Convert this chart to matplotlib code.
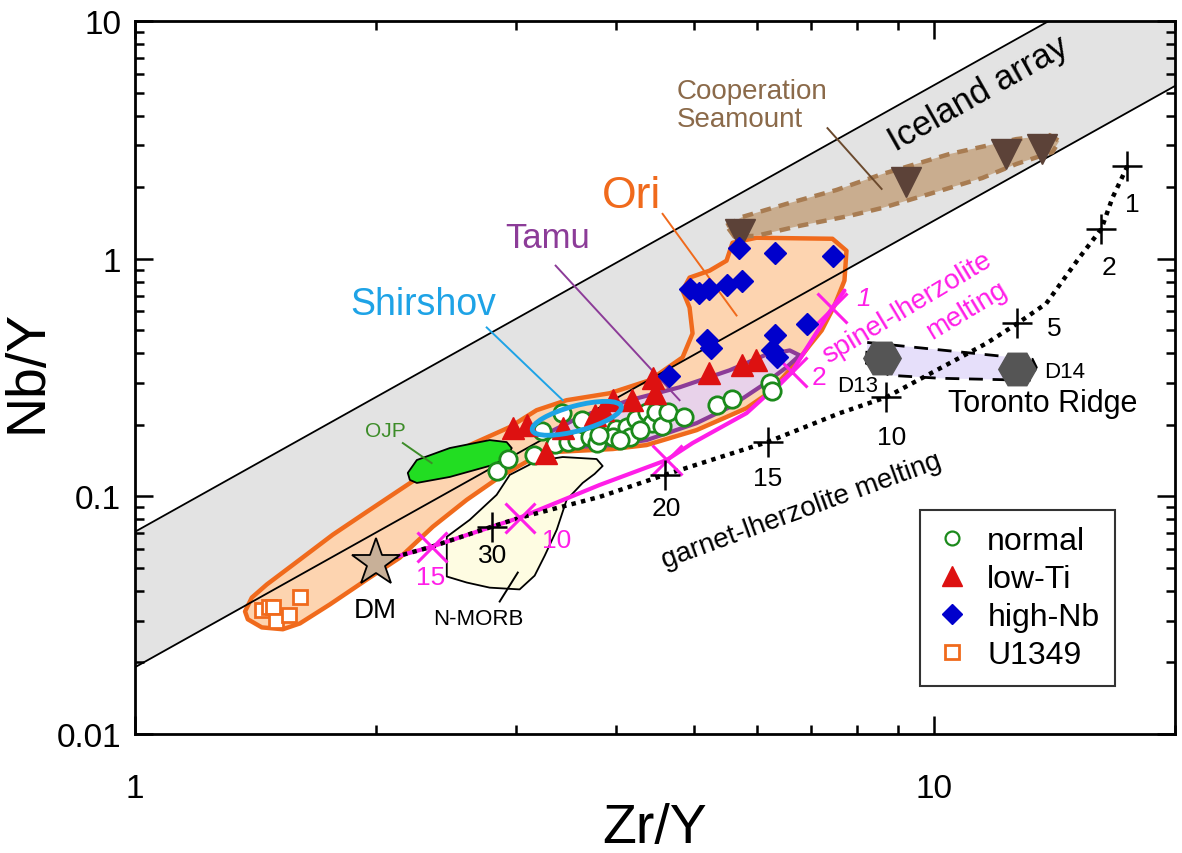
import numpy as np
import matplotlib
matplotlib.use('Agg')
import matplotlib.pyplot as plt
import matplotlib.transforms as mtransforms
from matplotlib import font_manager
from matplotlib.lines import Line2D
from matplotlib.patches import Ellipse

# font: Arial-like, narrow one for tick labels if present
names = {f.name for f in font_manager.fontManager.ttflist}
plt.rcParams['font.family'] = ['Liberation Sans', 'DejaVu Sans']
narrow = 'Liberation Sans Narrow' if 'Liberation Sans Narrow' in names else 'Liberation Sans'

# ---- Iceland array (log Nb/Y = slope * log Zr/Y + offset) ----
iceland_slope = 1.88
iceland_low = -1.719
iceland_high = -1.149
iceland_x = np.array([1.0, 20.0])

# ---- sample data (Zr/Y, Nb/Y) ----
normal_zr = [2.84, 2.93, 3.16, 3.23, 3.42, 3.62, 3.35, 3.48, 3.57, 3.71, 3.78, 3.89, 4.00, 3.96, 4.12,
             4.16, 4.24, 4.37, 4.43, 4.49, 4.56, 4.64, 4.86, 5.34, 5.59, 6.22, 6.26, 3.81, 4.04, 4.28]
normal_nb = [0.128, 0.144, 0.149, 0.188, 0.224, 0.209, 0.166, 0.169, 0.173, 0.178, 0.168, 0.196, 0.192, 0.178, 0.196,
             0.178, 0.211, 0.226, 0.203, 0.226, 0.198, 0.226, 0.216, 0.242, 0.256, 0.299, 0.277, 0.181, 0.173, 0.190]

lowti_zr = [2.97, 3.09, 3.27, 3.43, 3.76, 3.85, 3.96, 4.18, 4.44, 4.47, 5.23, 5.74, 5.99]
lowti_nb = [0.194, 0.200, 0.152, 0.194, 0.220, 0.231, 0.254, 0.254, 0.314, 0.272, 0.330, 0.356, 0.374]

highnb_zr = [5.70, 6.31, 7.46, 4.94, 5.08, 5.23, 5.50, 5.75, 5.19, 5.26, 6.31, 6.92, 6.36, 6.26, 4.66]
highnb_nb = [1.112, 1.060, 1.029, 0.749, 0.720, 0.749, 0.778, 0.809, 0.453, 0.420, 0.476, 0.529, 0.385, 0.411, 0.320]

u1349_zr = [1.44, 1.47, 1.49, 1.50, 1.56, 1.61]
u1349_nb = [0.0334, 0.0341, 0.0341, 0.0298, 0.0316, 0.0379]

coop_zr = [5.71, 9.22, 12.3, 13.65]
coop_nb = [1.273, 2.10, 2.76, 2.89]

toronto_zr = [8.61, 12.70]
toronto_nb = [0.381, 0.342]
toronto_names = ['D13', 'D14']

dm_zr, dm_nb = 2.0, 0.0526

# ---- fields ----
ori_zr = [1.373, 1.400, 1.462, 1.608, 1.768, 1.950, 2.144, 2.338, 2.623, 2.943, 3.180, 3.467, 3.926, 4.403,
          4.842, 4.983, 4.940, 4.842, 4.940, 5.233, 5.495, 5.591, 5.991, 7.456, 7.763, 7.718, 7.499, 7.228,
          6.982, 6.722, 6.220, 5.821, 5.041, 4.365, 3.960, 3.330, 3.117, 2.859, 2.600, 2.358, 2.144, 1.950,
          1.753, 1.608, 1.531, 1.441, 1.384]
ori_nb = [0.0328, 0.0375, 0.0426, 0.0542, 0.0690, 0.0861, 0.1065, 0.1292, 0.1644, 0.1956, 0.2305, 0.2539,
          0.2716, 0.3079, 0.3845, 0.4848, 0.6230, 0.7342, 0.8325, 0.8905, 0.9808, 1.167, 1.225, 1.213, 1.080,
          0.809, 0.635, 0.499, 0.432, 0.366, 0.274, 0.235, 0.190, 0.1644, 0.1582, 0.1536, 0.1422, 0.1207,
          0.0967, 0.0745, 0.0552, 0.0447, 0.0351, 0.0292, 0.0276, 0.0281, 0.0304]

tamu_zr = [3.302, 3.600, 4.157, 4.800, 5.543, 6.131, 6.592, 6.784, 6.531, 6.095, 5.543, 5.041, 4.365, 3.960, 3.548, 3.330]
tamu_nb = [0.1864, 0.2154, 0.2539, 0.2877, 0.3392, 0.3921, 0.4113, 0.3921, 0.3491, 0.2935, 0.2372, 0.2033,
           0.1725, 0.1644, 0.1612, 0.1692]

ojp_zr = [2.194, 2.252, 2.476, 2.778, 2.917, 2.960, 2.917, 2.802, 2.476, 2.252, 2.207]
ojp_nb = [0.1255, 0.1422, 0.1597, 0.1725, 0.1692, 0.1597, 0.1450, 0.1355, 0.1207, 0.1139, 0.1173]

nmorb_zr = [2.455, 2.455, 2.623, 2.834, 2.943, 3.180, 3.428, 3.780, 3.846, 3.758, 3.631, 3.467, 3.370,
            3.255, 3.162, 3.028, 2.778, 2.600]
nmorb_nb = [0.0460, 0.0676, 0.0797, 0.1015, 0.1231, 0.1409, 0.1464, 0.1436, 0.1342, 0.1243, 0.1139, 0.0967,
            0.0724, 0.0563, 0.0464, 0.0406, 0.0413, 0.0434]

coopfield_zr = [5.495, 5.754, 6.531, 7.542, 8.610, 10.44, 12.66, 13.93, 14.33, 14.05, 12.66, 11.48, 10.15,
                8.610, 7.834, 6.784, 5.991, 5.623]
coopfield_nb = [1.375, 1.500, 1.701, 1.946, 2.272, 2.756, 3.186, 3.311, 3.126, 2.810, 2.502, 2.186, 1.928,
                1.636, 1.515, 1.375, 1.249, 1.237]

torfield_zr = [8.241, 13.26, 13.41, 13.15, 10.15, 8.786, 8.222]
torfield_nb = [0.4443, 0.3772, 0.3491, 0.3079, 0.3140, 0.3232, 0.3628]

shirshov_center = (3.57, 0.213)

# ---- melting models ----
garnet_zr = [1.995, 2.350, 2.794, 3.028, 3.813, 4.597, 6.184, 7.612, 8.710, 10.44, 11.61, 12.70, 13.80,
             15.18, 16.18, 16.70, 17.44]
garnet_nb = [0.0526, 0.0614, 0.0745, 0.0813, 0.0995, 0.1231, 0.1693, 0.2239, 0.2615, 0.3629, 0.4400, 0.5339,
             0.6476, 1.010, 1.336, 1.803, 2.455]
garnet_marks = [2, 5, 6, 8, 11, 14, 16]
garnet_labels = ['30', '20', '15', '10', '5', '2', '1']
garnet_label_pos = [(2.802, 0.0568), (4.624, 0.0895), (6.18, 0.1196), (8.84, 0.1776),
                    (14.13, 0.5086), (16.55, 0.926), (17.68, 1.70)]

spinel_zr = [1.995, 2.350, 2.794, 3.028, 3.813, 4.624, 4.983, 5.821, 6.403, 6.627, 6.982, 7.456, 7.718]
spinel_nb = [0.0526, 0.0614, 0.0745, 0.0813, 0.1117, 0.1422, 0.1676, 0.2239, 0.2992, 0.3327, 0.4400, 0.6230, 0.7342]
spinel_marks = [1, 3, 5, 9, 11]
spinel_labels = ['15', '10', '2', '1']
spinel_label_pos = [(2.344, 0.0460), (3.37, 0.0657), (7.18, 0.317), (8.15, 0.686)]

# colours
ORANGE = '#f06a1c'
MAGENTA = '#ff1ee8'
PURPLE = '#8c3c98'
BLUE_SH = '#1ea3e6'
BROWN = '#8b6a4a'

fig = plt.figure(figsize=(11.82, 8.54), dpi=100)
ax = fig.add_axes([0.1142, 0.1393, 0.8799, 0.8349])
ax.set_xscale('log')
ax.set_yscale('log')
ax.set_xlim(1, 20)
ax.set_ylim(0.01, 10)

# Iceland array band
y_low = 10 ** (iceland_slope * np.log10(iceland_x) + iceland_low)
y_high = 10 ** (iceland_slope * np.log10(iceland_x) + iceland_high)
ax.fill_between(iceland_x, y_low, y_high, color='#e3e3e3', lw=0, zorder=1)

# fields
ax.fill(ori_zr, ori_nb, facecolor='#fdd4b0', edgecolor=ORANGE, lw=3.2, joinstyle='round', zorder=2)
ax.fill(nmorb_zr, nmorb_nb, facecolor='#fefce2', edgecolor='black', lw=1.3, joinstyle='round', zorder=2.2)
ax.plot(iceland_x, y_low, color='black', lw=1.3, zorder=2.5)
ax.plot(iceland_x, y_high, color='black', lw=1.3, zorder=2.5)
ax.fill(tamu_zr, tamu_nb, facecolor='#e8d2ea', edgecolor=PURPLE, lw=3, joinstyle='round', zorder=3)
ax.fill(ojp_zr, ojp_nb, facecolor='#22dd22', edgecolor='black', lw=1.3, joinstyle='round', zorder=3)
ax.fill(coopfield_zr, coopfield_nb, facecolor='#c9ad8f', edgecolor='#a87c52', lw=3.2,
        linestyle=(0, (2.4, 1.8)), joinstyle='round', zorder=3)
ax.fill(torfield_zr, torfield_nb, facecolor='#e6dffa', edgecolor='black', lw=2,
        linestyle=(0, (5, 3.5)), zorder=3)

# melting curves
ax.plot(spinel_zr, spinel_nb, color=MAGENTA, lw=3, solid_capstyle='round', zorder=4)
ax.plot(garnet_zr, garnet_nb, color='black', lw=3.2, linestyle=(0, (1, 1.2)), zorder=4.2)
ax.plot([spinel_zr[i] for i in spinel_marks], [spinel_nb[i] for i in spinel_marks], ls='',
        marker='x', ms=22, mew=2.2, color=MAGENTA, zorder=4.3)
ax.plot([garnet_zr[i] for i in garnet_marks], [garnet_nb[i] for i in garnet_marks], ls='',
        marker='+', ms=21, mew=1.8, color='black', zorder=4.4)

# leader lines
leaders = [
    ([4.571, 5.656], [1.544, 0.5768], ORANGE),
    ([3.359, 4.800], [0.935, 0.2539], PURPLE),
    ([2.754, 3.428], [0.5137, 0.2539], BLUE_SH),
    ([2.163, 2.350], [0.1676, 0.1381], '#3c8c28'),
    ([2.859, 3.012], [0.0361, 0.0478], 'black'),
    ([7.350, 8.590], [3.542, 1.966], '#6b4a2e'),
]
for lx, ly, c in leaders:
    ax.plot(lx, ly, color=c, lw=1.4, zorder=5)

# samples
ax.plot(normal_zr, normal_nb, ls='', marker='o', ms=12.5, mfc='white', mec='#1b8a1b', mew=2, zorder=6)
ax.plot(lowti_zr, lowti_nb, ls='', marker='^', ms=16, color='#dd1111', mec='#dd1111', zorder=6.2)
ax.plot(highnb_zr, highnb_nb, ls='', marker='D', ms=11.5, color='#0000cc', mec='#0000cc', zorder=6.3)
ax.plot(u1349_zr, u1349_nb, ls='', marker='s', ms=10, mfc='white', mec=ORANGE, mew=2, zorder=6)
ax.plot(coop_zr, coop_nb, ls='', marker='v', ms=22, color='#5c4238', zorder=6)
ax.plot(toronto_zr, toronto_nb, ls='', marker='H', ms=27, color='#555555', mec='#555555', zorder=6)
ax.plot([dm_zr], [dm_nb], ls='', marker='*', ms=36, mfc='#c8b098', mec='black', mew=1.3, zorder=7)

# Shirshov ellipse
tr = fig.dpi_scale_trans + mtransforms.ScaledTranslation(shirshov_center[0], shirshov_center[1], ax.transData)
ax.add_patch(Ellipse((0, 0), 0.92, 0.25, angle=15, transform=tr, fill=False,
                     ec=BLUE_SH, lw=3.5, zorder=8))

# labels
ax.text(4.18, 1.837, 'Ori', color=ORANGE, fontsize=32, ha='center', va='center', zorder=9)
ax.text(3.28, 1.225, 'Tamu', color=PURPLE, fontsize=25, ha='center', va='center', zorder=9)
ax.text(2.291, 0.6477, 'Shirshov', color=BLUE_SH, fontsize=27, ha='center', va='center', zorder=9)
ax.text(2.054, 0.190, 'OJP', color='#3c8c28', fontsize=15, ha='center', va='center', zorder=9)
ax.text(4.759, 4.42, 'Cooperation\nSeamount', color=BROWN, fontsize=20, ha='left', va='center',
        linespacing=1.1, zorder=9)
ax.text(11.35, 4.97, 'Iceland array', fontsize=25, rotation=29.5, rotation_mode='anchor',
        ha='center', va='center', zorder=9)
ax.text(13.68, 0.2466, 'Toronto Ridge', fontsize=22, ha='center', va='center', zorder=9)
ax.text(8.01, 0.2935, toronto_names[0], fontsize=16, ha='center', va='center', zorder=9)
ax.text(14.54, 0.3359, toronto_names[1], fontsize=16, ha='center', va='center', zorder=9)
ax.text(1.995, 0.0331, 'DM', fontsize=20, ha='center', va='center', zorder=9)
ax.text(2.692, 0.0306, 'N-MORB', fontsize=16, ha='center', va='center', zorder=9)
ax.text(9.25, 0.623, 'spinel-lherzolite', color=MAGENTA, fontsize=20, rotation=31,
        rotation_mode='anchor', ha='center', va='center', zorder=9)
ax.text(10.99, 0.611, 'melting', color=MAGENTA, fontsize=20, rotation=31,
        rotation_mode='anchor', ha='center', va='center', zorder=9)
ax.text(6.82, 0.0878, 'garnet-lherzolite melting', fontsize=20, rotation=20,
        rotation_mode='anchor', ha='center', va='center', zorder=9)
for lab, (px, py) in zip(garnet_labels, garnet_label_pos):
    ax.text(px, py, lab, fontsize=19, ha='center', va='center', zorder=9)
for lab, (px, py) in zip(spinel_labels, spinel_label_pos):
    ax.text(px, py, lab, color=MAGENTA, fontsize=19, ha='center', va='center', zorder=9,
            style='italic' if lab == '1' else 'normal')

# legend
handles = [
    Line2D([], [], ls='', marker='o', ms=10, mfc='white', mec='#1b8a1b', mew=1.6),
    Line2D([], [], ls='', marker='^', ms=14, color='#dd1111'),
    Line2D([], [], ls='', marker='D', ms=10, color='#0000cc'),
    Line2D([], [], ls='', marker='s', ms=10, mfc='white', mec=ORANGE, mew=2),
]
leg = ax.legend(handles, ['normal', 'low-Ti', 'high-Nb', 'U1349'], loc='upper left',
                bbox_to_anchor=(0.755, 0.314), borderaxespad=0, fontsize=23, frameon=True,
                fancybox=False, edgecolor='#333333', framealpha=1, handlelength=1.0,
                handletextpad=0.6, labelspacing=0.25, borderpad=0.5)
leg.get_frame().set_linewidth(1.5)
leg.set_zorder(10)

# axes styling
for s in ax.spines.values():
    s.set_linewidth(2)
ax.tick_params(which='both', direction='in', top=True, right=True, width=1.8)
ax.tick_params(which='major', length=13)
ax.tick_params(which='minor', length=6.5)
ax.tick_params(axis='x', which='major', pad=28)
ax.tick_params(axis='y', which='major', pad=10)
ax.set_xticks([1, 10])
ax.set_xticklabels(['1', '10'])
ax.set_yticks([0.01, 0.1, 1, 10])
ax.set_yticklabels(['0.01', '0.1', '1', '10'])
for t in ax.get_xticklabels() + ax.get_yticklabels():
    t.set_fontfamily(narrow)
    t.set_fontsize(24)

ax.set_xlabel('Zr/Y', fontsize=40)
ax.set_ylabel('Nb/Y', fontsize=40)
ax.xaxis.set_label_coords(0.5, -0.095)
ax.yaxis.set_label_coords(-0.078, 0.51)

fig.savefig('out.png', dpi=100)
